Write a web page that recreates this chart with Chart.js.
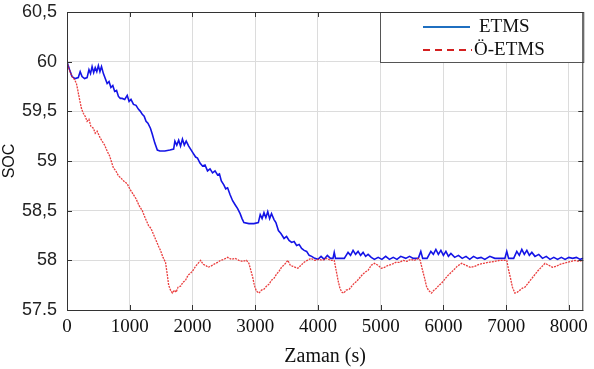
<!DOCTYPE html>
<html>
<head>
<meta charset="utf-8">
<script src="https://cdn.jsdelivr.net/npm/chart.js@4.4.1/dist/chart.umd.min.js"></script>
<style>
  html, body { margin: 0; padding: 0; background: #fff; }
  #wrap { width: 594px; height: 369px; }
</style>
</head>
<body>
<div id="wrap"><canvas id="socChart" width="594" height="369"></canvas></div>
<script>
// SOC vs time, ETMS and Ö-ETMS
var xTicks = [0, 1000, 2000, 3000, 4000, 5000, 6000, 7000, 8000];
var yTicks = [57.5, 58, 58.5, 59, 59.5, 60, 60.5];
var yTickLabels = ['57.5', '58', '58,5', '59', '59,5', '60', '60,5'];
var seriesNames = ['ETMS', 'Ö-ETMS'];

var etmsTime = [0, 40, 80, 130, 180, 210, 240, 280, 320, 350, 375, 400, 425, 450, 475, 500, 525, 550, 580, 610,
  640, 670, 700, 730, 760, 790, 820, 850, 880, 920, 960, 990, 1020, 1060, 1100, 1140, 1170, 1200, 1230, 1260,
  1290, 1330, 1360, 1400, 1440, 1480, 1560, 1640, 1700, 1720, 1750, 1780, 1810, 1840, 1870, 1900, 1940, 1970, 2010, 2050,
  2080, 2120, 2160, 2200, 2240, 2280, 2320, 2360, 2400, 2430, 2460, 2500, 2530, 2560, 2600, 2640, 2680, 2720, 2760, 2790,
  2820, 2900, 2980, 3050, 3080, 3110, 3140, 3170, 3200, 3230, 3260, 3300, 3330, 3370, 3410, 3460, 3500, 3540, 3580, 3620,
  3660, 3700, 3740, 3780, 3820, 3860, 3900, 3950, 4000, 4050, 4100, 4150, 4200, 4240, 4260, 4280, 4350, 4420, 4480, 4520,
  4560, 4600, 4640, 4680, 4720, 4760, 4800, 4850, 4900, 4960, 5020, 5080, 5140, 5200, 5260, 5320, 5400, 5460, 5520, 5600,
  5640, 5670, 5740, 5800, 5840, 5880, 5920, 5960, 6000, 6040, 6080, 6120, 6180, 6240, 6300, 6360, 6420, 6480, 6540, 6600,
  6660, 6740, 6820, 6900, 6980, 7010, 7040, 7120, 7170, 7210, 7250, 7290, 7330, 7370, 7410, 7460, 7520, 7580, 7640, 7700,
  7760, 7820, 7880, 7940, 8000, 8060, 8120, 8180, 8230];
var etmsSoc = [60.0, 59.92, 59.85, 59.83, 59.84, 59.9, 59.85, 59.83, 59.84, 59.92, 59.88, 59.95, 59.89, 59.94, 59.9, 59.96, 59.9, 59.95, 59.88, 59.83,
  59.78, 59.8, 59.74, 59.76, 59.7, 59.71, 59.65, 59.63, 59.63, 59.62, 59.66, 59.6, 59.62, 59.57, 59.56, 59.52, 59.5, 59.47, 59.45, 59.4,
  59.38, 59.33, 59.27, 59.18, 59.11, 59.1, 59.1, 59.11, 59.12, 59.2, 59.16, 59.21, 59.15, 59.22, 59.16, 59.2, 59.15, 59.12, 59.08, 59.04,
  59.03, 58.98, 58.95, 58.96, 58.9, 58.92, 58.88, 58.9, 58.86, 58.87, 58.8, 58.76, 58.72, 58.73, 58.66, 58.6, 58.56, 58.52, 58.47, 58.42,
  58.38, 58.37, 58.37, 58.38, 58.46, 58.42, 58.48, 58.43, 58.49, 58.42, 58.47, 58.41, 58.38, 58.3, 58.27, 58.22, 58.24, 58.2, 58.18, 58.19,
  58.15, 58.16, 58.12, 58.1, 58.09, 58.05, 58.04, 58.02, 58.01, 58.04, 58.01, 58.05, 58.02, 58.02, 58.08, 58.02, 58.02, 58.02, 58.08, 58.05,
  58.1, 58.06, 58.09, 58.05, 58.08, 58.04, 58.06, 58.03, 58.01, 58.03, 58.01, 58.04, 58.01, 58.03, 58.01, 58.04, 58.02, 58.04, 58.02, 58.02,
  58.09, 58.02, 58.02, 58.09, 58.06, 58.11, 58.06, 58.1, 58.05, 58.09, 58.04, 58.07, 58.03, 58.05, 58.02, 58.04, 58.01, 58.04, 58.02, 58.03,
  58.01, 58.04, 58.02, 58.02, 58.02, 58.09, 58.02, 58.02, 58.09, 58.05, 58.11, 58.06, 58.1, 58.05, 58.08, 58.04, 58.06, 58.02, 58.04, 58.01,
  58.03, 58.01, 58.03, 58.01, 58.03, 58.02, 58.03, 58.01, 58.02];

var oetmsTime = [0, 30, 60, 90, 120, 150, 170, 200, 230, 260, 290, 320, 350, 380, 420, 450, 480, 530, 560, 600,
  640, 680, 710, 740, 780, 820, 860, 900, 960, 1000, 1050, 1100, 1150, 1200, 1250, 1300, 1340, 1380, 1420, 1460,
  1490, 1530, 1570, 1600, 1620, 1650, 1680, 1710, 1740, 1770, 1810, 1850, 1890, 1930, 1970, 2010, 2050, 2090, 2130, 2170,
  2210, 2250, 2290, 2340, 2400, 2450, 2500, 2560, 2620, 2680, 2740, 2800, 2860, 2900, 2930, 2960, 2990, 3020, 3060, 3100,
  3140, 3180, 3220, 3260, 3300, 3340, 3380, 3420, 3470, 3520, 3560, 3600, 3640, 3680, 3730, 3780, 3830, 3890, 3950, 4010,
  4070, 4140, 4200, 4260, 4290, 4320, 4350, 4380, 4410, 4450, 4500, 4540, 4580, 4620, 4660, 4700, 4750, 4800, 4850, 4900,
  4960, 5010, 5060, 5120, 5180, 5240, 5300, 5360, 5420, 5480, 5540, 5600, 5630, 5660, 5700, 5730, 5760, 5810, 5850, 5890,
  5930, 5970, 6010, 6060, 6110, 6160, 6220, 6290, 6360, 6430, 6500, 6570, 6640, 6720, 6820, 6900, 6960, 7010, 7040, 7070,
  7100, 7140, 7180, 7220, 7260, 7300, 7350, 7400, 7450, 7500, 7560, 7620, 7680, 7740, 7800, 7860, 7920, 7980, 8040, 8100,
  8160, 8230];
var oetmsSoc = [60.0, 59.93, 59.88, 59.84, 59.82, 59.78, 59.72, 59.62, 59.53, 59.48, 59.45, 59.4, 59.42, 59.35, 59.33, 59.28, 59.3, 59.23, 59.2, 59.16,
  59.1, 59.05, 58.99, 58.93, 58.9, 58.85, 58.83, 58.8, 58.77, 58.72, 58.67, 58.62, 58.55, 58.5, 58.42, 58.35, 58.32, 58.26, 58.2, 58.14,
  58.1, 58.03, 57.98, 57.85, 57.75, 57.7, 57.67, 57.7, 57.68, 57.73, 57.74, 57.78, 57.8, 57.85, 57.87, 57.9, 57.94, 57.97, 58.0, 57.96,
  57.95, 57.93, 57.94, 57.96, 57.98, 58.0, 58.01, 58.03, 58.01, 58.02, 58.0, 57.99, 58.0, 57.97, 57.9, 57.83, 57.74, 57.69, 57.67, 57.7,
  57.71, 57.74, 57.76, 57.8, 57.82, 57.86, 57.89, 57.93, 57.96, 58.0, 57.95, 57.94, 57.93, 57.92, 57.95, 57.98, 58.0, 58.02, 58.0, 58.01,
  58.0, 58.02, 58.0, 58.0, 57.9, 57.8, 57.72, 57.68, 57.67, 57.7, 57.71, 57.74, 57.77, 57.79, 57.82, 57.85, 57.88, 57.9, 57.95, 57.97,
  57.95, 57.92, 57.93, 57.95, 57.96, 57.98, 57.98, 58.0, 57.99, 58.01, 58.0, 58.02, 58.0, 57.92, 57.82, 57.74, 57.7, 57.67, 57.7, 57.72,
  57.75, 57.77, 57.8, 57.84, 57.87, 57.9, 57.94, 57.97, 57.95, 57.93, 57.94, 57.96, 57.97, 57.98, 57.99, 58.0, 58.0, 58.0, 57.9, 57.82,
  57.73, 57.67, 57.68, 57.7, 57.72, 57.73, 57.77, 57.81, 57.85, 57.89, 57.93, 57.97, 57.95, 57.93, 57.94, 57.96, 57.97, 57.98, 57.99, 58.0,
  57.99, 58.0];

function toPoints(ts, vs) {
  return ts.map(function (t, i) { return { x: t, y: vs[i] }; });
}

// legend box + inward ticks + frame, drawn over the plot
var framePlugin = {
  id: 'frame',
  afterDatasetsDraw: function (chart) {
    var ctx = chart.ctx, a = chart.chartArea;
    var xs = chart.scales.x, ys = chart.scales.y;
    ctx.save();
    ctx.strokeStyle = '#333';
    ctx.lineWidth = 1;
    // inward tick marks
    ctx.beginPath();
    xTicks.forEach(function (v) {
      var px = Math.round(xs.getPixelForValue(v)) + 0.5;
      ctx.moveTo(px, a.bottom); ctx.lineTo(px, a.bottom - 5);
      ctx.moveTo(px, a.top); ctx.lineTo(px, a.top + 5);
    });
    yTicks.forEach(function (v) {
      var py = Math.round(ys.getPixelForValue(v)) + 0.5;
      ctx.moveTo(a.left, py); ctx.lineTo(a.left + 5, py);
      ctx.moveTo(a.right, py); ctx.lineTo(a.right - 5, py);
    });
    ctx.stroke();
    // legend
    var lx = 380, ly = a.top, lw = a.right - lx, lh = 50;
    ctx.fillStyle = '#fff';
    ctx.fillRect(lx, ly, lw, lh);
    ctx.strokeStyle = '#555';
    ctx.strokeRect(lx + 0.5, ly + 0.5, lw, lh);
    ctx.font = '19px "Liberation Serif", serif';
    ctx.textBaseline = 'middle';
    ctx.fillStyle = '#111';
    ctx.lineWidth = 2;
    ctx.strokeStyle = '#1f6fc0';
    ctx.beginPath(); ctx.moveTo(423, 27); ctx.lineTo(470, 27); ctx.stroke();
    ctx.fillText(seriesNames[0], 479, 27);
    ctx.strokeStyle = '#d42020';
    ctx.setLineDash([7, 5]);
    ctx.beginPath(); ctx.moveTo(423, 50); ctx.lineTo(472, 50); ctx.stroke();
    ctx.setLineDash([]);
    ctx.fillText(seriesNames[1], 474, 50);
    // frame
    ctx.lineWidth = 1;
    ctx.strokeStyle = '#333';
    ctx.strokeRect(a.left + 0.5, a.top + 0.5, a.right - a.left - 1, a.bottom - a.top);
    ctx.restore();
  }
};

var ctx1 = document.getElementById('socChart').getContext('2d');
var socChart = new Chart(ctx1, {
  type: 'line',
  data: {
    datasets: [{
      label: seriesNames[1],
      data: toPoints(oetmsTime, oetmsSoc),
      borderColor: 'rgba(232, 40, 40, 0.9)',
      borderWidth: 1.3,
      borderDash: [2, 1],
      pointRadius: 0,
      tension: 0
    }, {
      label: seriesNames[0],
      data: toPoints(etmsTime, etmsSoc),
      borderColor: '#1414e6',
      borderWidth: 1.6,
      pointRadius: 0,
      tension: 0
    }]
  },
  options: {
    responsive: false,
    animation: false,
    layout: { padding: { top: 12, right: 5, left: 0, bottom: 0 } },
    plugins: { legend: { display: false }, tooltip: { enabled: false } },
    scales: {
      x: {
        type: 'linear',
        min: 0,
        max: 8230,
        afterBuildTicks: function (s) {
          s.ticks = xTicks.map(function (v) { return { value: v }; });
        },
        afterFit: function (s) { s.height = 59; },
        grid: { color: '#dcdcdc', drawTicks: false },
        border: { display: false },
        ticks: {
          padding: 6,
          color: '#111',
          font: { family: '"Liberation Serif", serif', size: 19 },
          maxRotation: 0,
          callback: function (v) { return String(v); }
        },
        title: {
          display: true,
          text: 'Zaman (s)',
          color: '#111',
          font: { family: '"Liberation Serif", serif', size: 20 },
          padding: { top: 0, bottom: 0 }
        }
      },
      y: {
        min: 57.5,
        max: 60.5,
        afterBuildTicks: function (s) {
          s.ticks = yTicks.map(function (v) { return { value: v }; });
        },
        afterFit: function (s) {
          s.width = 67;
          s.paddingTop = 0;
          s.paddingBottom = 0;
        },
        grid: { color: '#dcdcdc', drawTicks: false },
        border: { display: false },
        ticks: {
          padding: 10,
          color: '#222',
          font: { family: '"Liberation Sans", Arial, sans-serif', size: 18 },
          callback: function (v) {
            var i = yTicks.indexOf(v);
            return i >= 0 ? yTickLabels[i] : '';
          }
        },
        title: {
          display: true,
          text: 'SOC',
          color: '#111',
          font: { family: '"Liberation Sans", Arial, sans-serif', size: 16 },
          padding: { top: 0, bottom: 0 }
        }
      }
    }
  },
  plugins: [framePlugin]
});
</script>
</body>
</html>
